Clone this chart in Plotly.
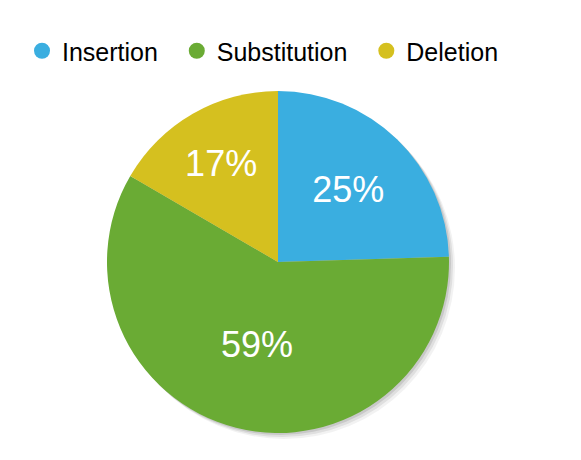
import plotly.graph_objects as go

# edit types and their share of all edits
labels = ["Insertion", "Substitution", "Deletion"]
values = [24.5, 58.9, 16.6]
colors = ["#3aaee0", "#6aab34", "#d5c01f"]

W, H = 581, 460
# pie box in pixels (left, top, size)
px_left, px_top, px_size = 99, 83, 342


def dom(dx=0, dy=0):
    x0 = (px_left + dx) / W
    x1 = (px_left + px_size + dx) / W
    y1 = 1 - (px_top + dy) / H
    y0 = 1 - (px_top + px_size + dy) / H
    return dict(x=[x0, x1], y=[y0, y1])


fig = go.Figure()

# soft drop shadow: a few grey discs behind the pie
for off, alpha in [(6, 0.05), (4, 0.08), (2, 0.10)]:
    fig.add_trace(
        go.Pie(
            values=[1],
            domain=dom(off, off),
            marker=dict(colors=[f"rgba(0,0,0,{alpha})"], line=dict(width=0)),
            textinfo="none",
            hoverinfo="skip",
            showlegend=False,
            sort=False,
        )
    )

fig.add_trace(
    go.Pie(
        labels=labels,
        values=values,
        domain=dom(),
        sort=False,
        direction="clockwise",
        rotation=0,
        marker=dict(colors=colors, line=dict(width=0)),
        textinfo="percent",
        texttemplate="%{percent:.0%}",
        textposition="inside",
        insidetextorientation="horizontal",
        textfont=dict(family="Liberation Sans, Arial", size=36, color="white"),
        showlegend=False,
    )
)

# legend entries with round markers
for name, c in zip(labels, colors):
    fig.add_trace(
        go.Scatter(
            x=[None],
            y=[None],
            mode="markers",
            name=name + "\u00a0\u00a0",
            marker=dict(symbol="circle", size=24, color=c),
        )
    )

fig.update_xaxes(visible=False)
fig.update_yaxes(visible=False)
fig.update_layout(
    width=W,
    height=H,
    margin=dict(l=0, r=0, t=0, b=0, autoexpand=False),
    paper_bgcolor="white",
    plot_bgcolor="white",
    font=dict(family="Liberation Sans, Arial", color="black"),
    legend=dict(
        orientation="h",
        x=14 / W,
        xanchor="left",
        y=1 - 20 / H,
        yanchor="top",
        font=dict(size=25, color="black"),
        itemclick=False,
        traceorder="normal",
    ),
)

fig.write_html("out.html")
